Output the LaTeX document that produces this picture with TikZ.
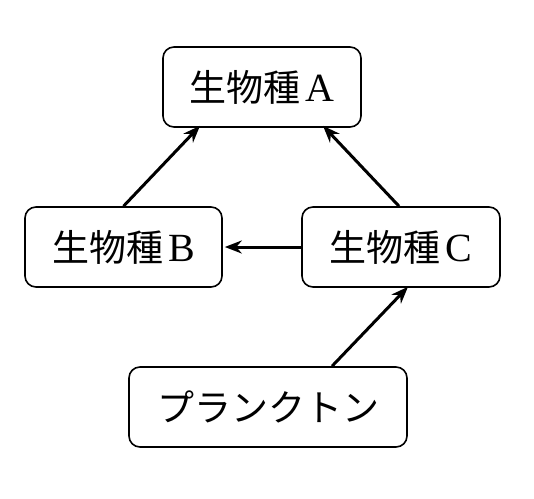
\documentclass[tikz,border=0pt]{standalone}
\usepackage{fontspec}
\setmainfont{Liberation Serif}
\newfontfamily\jp{Noto Sans CJK JP}
\usetikzlibrary{arrows.meta}
\begin{document}
\begin{tikzpicture}[x=1pt,y=-1pt,
  box/.style={draw, line width=1.6pt, rounded corners=11pt, inner sep=0pt, minimum height=80pt, font=\fontsize{37}{40}\selectfont},
  arr/.style={line width=3pt, -{Stealth[length=17pt,width=13pt]}}]
\useasboundingbox (0,0) rectangle (534,498);
\node[box, minimum width=198pt] (A) at (262,87) {{\jp 生物種}\hspace{5pt}\fontsize{40}{40}\selectfont A};
\node[box, minimum width=197pt] (B) at (123.5,247) {{\jp 生物種}\hspace{5pt}\fontsize{40}{40}\selectfont B};
\node[box, minimum width=198pt] (C) at (401,247) {{\jp 生物種}\hspace{5pt}\fontsize{40}{40}\selectfont C};
\node[box, minimum width=278pt] (P) at (268,407) {\jp プランクトン};
\draw[arr] (B.north) -- ([xshift=-62pt,yshift=2pt]A.south);
\draw[arr] ([xshift=-2pt]C.north) -- ([xshift=61pt,yshift=2pt]A.south);
\draw[arr] (C.west) -- ([xshift=2pt]B.east);
\draw[arr] ([xshift=64pt]P.north) -- ([xshift=7pt,yshift=1pt]C.south);
\end{tikzpicture}
\end{document}
